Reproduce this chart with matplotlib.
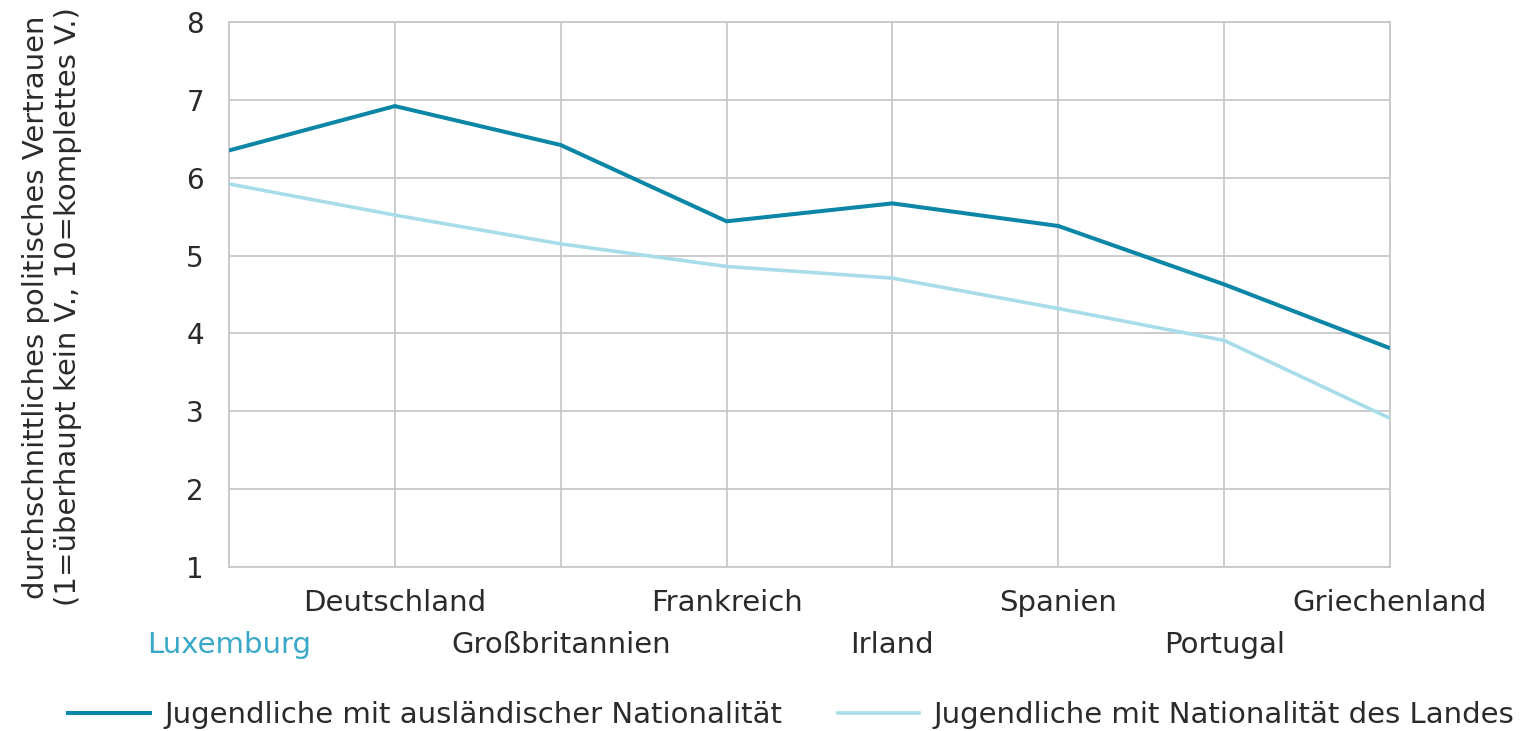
import matplotlib
matplotlib.use("Agg")
import matplotlib.pyplot as plt
from matplotlib.lines import Line2D

plt.rcParams['font.family'] = ['DejaVu Sans']

countries = ["Luxemburg", "Deutschland", "Großbritannien", "Frankreich",
             "Irland", "Spanien", "Portugal", "Griechenland"]
auslaendisch = [6.35, 6.92, 6.42, 5.44, 5.67, 5.38, 4.63, 3.81]
national = [5.92, 5.52, 5.15, 4.86, 4.71, 4.32, 3.91, 2.91]
y_ticks = [1, 2, 3, 4, 5, 6, 7, 8]
series_labels = ["Jugendliche mit ausländischer Nationalität",
                 "Jugendliche mit Nationalität des Landes"]

DARK = "#0b86a6"
LIGHT = "#a9dce9"
LUX = "#3aa8c8"
GRID = "#c8c8c8"
TXT = "#2a2a2a"

fig = plt.figure(figsize=(15.32, 7.31), dpi=100)
ax = fig.add_axes([229/1532, 1-567/731, (1390-229)/1532, (567-22)/731])

x = list(range(len(countries)))
ax.plot(x, national, color=LIGHT, lw=2.6, solid_capstyle='butt', zorder=3)
ax.plot(x, auslaendisch, color=DARK, lw=2.9, solid_capstyle='butt', zorder=4)

ax.set_xlim(0, len(countries) - 1)
ax.set_ylim(1, 8)
ax.set_yticks(y_ticks)
ax.set_yticklabels([str(v) for v in y_ticks], fontsize=20, color=TXT)
ax.tick_params(axis='y', length=0, pad=18)
ax.set_xticks(x)
ax.set_xticklabels([])
ax.tick_params(axis='x', length=0)
ax.grid(True, color=GRID, lw=1.3)
ax.set_axisbelow(True)
for s in ax.spines.values():
    s.set_color(GRID)
    s.set_linewidth(1.3)

trans = ax.get_xaxis_transform()
for i, c in enumerate(countries):
    yy = -36/545 if i % 2 == 1 else -78/545
    col = LUX if i == 0 else TXT
    ax.text(i, yy, c, transform=trans, ha='center', va='center',
            fontsize=21, color=col)

fig.text(52/1532, 1-307/731,
         "durchschnittliches politisches Vertrauen\n(1=überhaupt kein V., 10=komplettes V.)",
         rotation=90, ha='center', va='center', multialignment='center',
         fontsize=21, color=TXT, linespacing=1.2)

handles = [Line2D([], [], color=DARK, lw=2.9), Line2D([], [], color=LIGHT, lw=2.6)]
fig.legend(handles, series_labels, loc='center left', bbox_to_anchor=(68/1532, 1-715/731),
           ncol=2, frameon=False, fontsize=21, handlelength=2.8, handletextpad=0.5,
           columnspacing=1.9, labelcolor=TXT, borderaxespad=0, borderpad=0)

fig.savefig("out.png", dpi=100)
